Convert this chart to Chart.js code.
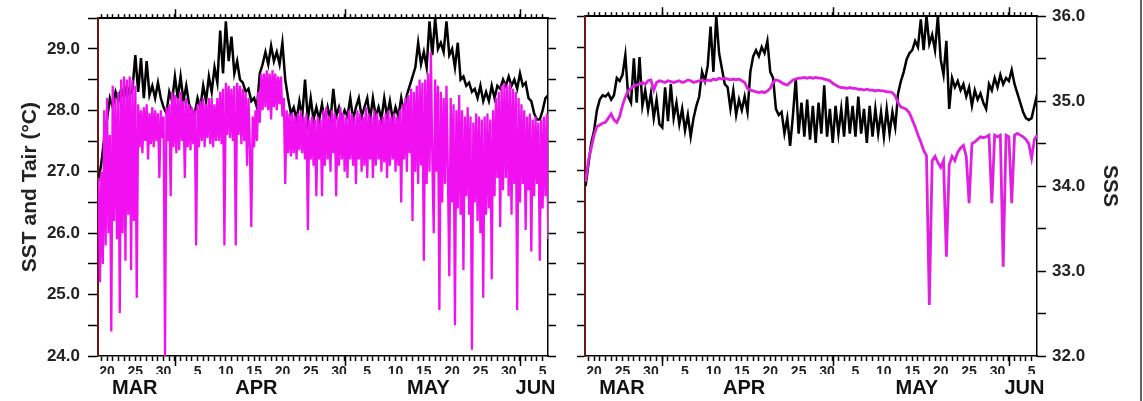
<!DOCTYPE html>
<html>
<head>
<meta charset="utf-8">
<script src="https://cdn.jsdelivr.net/npm/chart.js@4.4.1/dist/chart.umd.min.js"></script>
<style>
  body { margin: 0; background: #fff; width: 1143px; height: 401px; overflow: hidden; position: relative; }
  #left { position: absolute; left: 0; top: 0; }
  #right { position: absolute; left: 560px; top: 0; }
  #edge { position: absolute; left: 1140px; top: 0; width: 2px; height: 401px; background: #666; }
</style>
</head>
<body>
<canvas id="left" width="570" height="401"></canvas>
<canvas id="right" width="583" height="401"></canvas>
<div id="edge"></div>
<script>
// time axis is in days since 1 March (Mar 20 = 19, Apr 1 = 31, May 1 = 61, Jun 1 = 92)
const xMin = 17.4;
const xMax = 96.95;
const monthStarts = [0, 31, 61, 92];
const monthNames = ['MAR', 'APR', 'MAY', 'JUN'];
const monthLabelDays = [23.9, 45.4, 75.8, 94.75];
const sstTicks = [24, 24.5, 25, 25.5, 26, 26.5, 27, 27.5, 28, 28.5, 29, 29.5];
const sssTicks = [32, 32.5, 33, 33.5, 34, 34.5, 35, 35.5, 36];

// samples start at day 17.5; SST / SSS every half day, Tair every quarter day
const sampleStart = 17.5;

const sstLeft = [
  26.85, 27.15, 27.55, 27.85, 28.2, 28.05, 28.3, 28.15, 28.35, 28.2,
  28.4, 28.25, 28.35, 28.9, 28.3, 28.85, 28.2, 28.8, 28.25, 28.4,
  28.2, 28.45, 28.2, 28.05, 27.95, 28.3, 28.15, 28.55, 28.2, 28.55,
  28.15, 28.4, 28.1, 28.0, 27.95, 28.2, 28.05, 28.4, 28.15, 28.55,
  28.3, 28.7, 28.45, 29.3, 28.6, 29.45, 28.8, 29.2, 28.6, 28.8,
  28.5, 28.45, 28.3, 28.35, 28.15, 28.2, 28.05, 28.6, 28.75, 28.95,
  28.75, 29.05, 28.8, 28.95, 28.75, 29.1, 28.5, 28.2, 27.95, 28.05,
  27.85, 28.15, 27.9, 28.5, 27.85, 28.2, 27.85, 28.05, 27.85, 28.1,
  27.8, 28.05, 27.85, 28.35, 27.9, 28.05, 27.85, 28.0, 27.9, 28.2,
  27.85, 28.05, 28.2, 27.9, 28.05, 28.2, 27.85, 28.2, 27.9, 28.05,
  27.85, 28.2, 27.9, 28.15, 27.85, 28.05, 27.9, 28.2, 27.95, 28.25,
  28.4, 28.55, 28.7, 29.1, 28.75, 28.95, 28.7, 29.45, 28.9, 29.5,
  29.0, 29.1, 28.95, 29.45, 28.9, 29.0, 28.7, 29.1, 28.5, 28.55,
  28.4, 28.45, 28.3, 28.35, 28.2, 28.4, 28.15, 28.3, 28.15, 28.4,
  28.2, 28.4, 28.35, 28.5, 28.4, 28.55, 28.4, 28.5, 28.35, 28.6,
  28.4, 28.45, 28.2, 28.15, 27.95, 27.85, 27.85, 28.0, 28.2, 28.25
];

const tair = [
  26.9, 25.2, 27.0, 25.5,   28.0, 25.8, 28.2, 26.0,
  27.6, 24.4, 28.4, 26.2,   28.2, 25.9, 28.3, 24.7,
  28.5, 26.0, 28.55, 25.55, 28.5, 26.3, 28.55, 25.4,
  28.5, 26.2, 28.4, 24.95,  28.1, 27.4, 28.0, 27.3,
  28.05, 27.5, 28.1, 27.2,  27.95, 27.45, 28.05, 27.4,
  28.0, 27.5, 27.95, 26.9,  28.0, 27.55, 27.9, 24.0,
  28.05, 27.5, 28.1, 26.6,  28.3, 27.4, 28.25, 27.3,
  28.2, 27.35, 28.3, 27.5,  28.15, 26.9, 28.2, 27.4,
  28.1, 27.35, 28.05, 27.45, 28.0, 25.8, 28.1, 27.4,
  28.15, 27.5, 28.2, 27.4,  28.1, 27.55, 28.2, 27.45,
  28.2, 27.4, 28.1, 27.5,   28.2, 27.5, 28.3, 27.45,
  28.35, 25.8, 28.45, 27.6, 28.4, 27.55, 28.35, 27.5,
  28.4, 25.8, 28.45, 27.6,  28.4, 27.45, 28.35, 27.5,
  28.3, 27.1, 28.2, 27.4,   26.1, 27.9, 27.4, 28.0,
  27.5, 28.3, 27.8, 28.6,   28.0, 28.6, 28.05, 28.65,
  28.0, 28.6, 27.85, 28.65, 28.05, 28.6, 28.0, 28.55,
  28.1, 28.55, 27.9, 28.2,  26.8, 28.0, 27.3, 27.95,
  27.25, 27.95, 27.3, 27.9, 27.2, 27.95, 27.35, 28.0,
  27.3, 27.9, 27.2, 27.95,  26.05, 27.85, 27.2, 27.9,
  27.1, 27.85, 26.6, 27.9,  27.2, 27.85, 26.6, 28.0,
  27.1, 28.05, 27.2, 27.9,  27.0, 28.0, 27.3, 27.95,
  26.6, 27.9, 27.1, 28.05,  27.2, 27.95, 27.0, 27.9,
  26.9, 28.0, 27.2, 27.95,  27.1, 27.9, 26.8, 28.0,
  27.2, 27.95, 27.0, 27.9,  27.1, 28.05, 26.9, 27.95,
  27.2, 27.9, 26.9, 28.0,   27.1, 27.95, 27.2, 27.85,
  27.0, 27.9, 27.15, 27.95, 26.9, 28.0, 27.1, 27.9,
  27.2, 27.95, 27.0, 27.9,  27.1, 28.0, 26.5, 28.1,
  27.2, 28.2, 27.0, 28.25,  27.3, 28.35, 26.2, 28.3,
  27.0, 28.4, 26.8, 28.5,   27.1, 28.45, 25.55, 28.5,
  26.8, 28.6, 27.0, 28.95,  27.2, 26.0, 28.5, 27.0,
  28.4, 24.75, 28.3, 26.5,  28.2, 26.8, 28.4, 27.0,
  25.3, 28.2, 26.5, 28.1,   24.5, 28.0, 26.4, 28.25,
  26.3, 28.0, 25.4, 27.9,   26.6, 28.05, 26.3, 27.9,
  24.1, 27.8, 26.5, 27.95,  26.2, 27.9, 26.0, 27.85,
  24.95, 27.9, 26.3, 27.95, 26.4, 27.85, 25.25, 28.0,
  26.6, 28.2, 26.9, 28.3,   26.1, 28.4, 26.7, 28.45,
  26.9, 28.4, 26.6, 28.45,  26.3, 28.35, 26.8, 28.3,
  24.75, 28.2, 26.5, 28.1,  26.8, 28.0, 26.05, 27.9,
  26.7, 27.95, 25.7, 27.85, 26.6, 27.9, 26.8, 27.8,
  25.55, 27.85, 26.4, 27.9, 26.6, 27.95, 25.9, 27.8
];

const sss = [
  34.05, 34.3, 34.45, 34.6, 34.7, 34.72, 34.74, 34.75, 34.8, 34.85,
  34.78, 34.75, 34.82, 34.95, 35.05, 35.12, 35.15, 35.18, 35.19, 35.2,
  35.22, 35.2, 35.24, 35.25, 35.13, 35.22, 35.24, 35.23, 35.22, 35.24,
  35.23, 35.22, 35.23, 35.24, 35.22, 35.23, 35.25, 35.24, 35.22, 35.23,
  35.24, 35.25, 35.23, 35.25, 35.24, 35.26, 35.25, 35.27, 35.26, 35.27,
  35.26, 35.25, 35.26, 35.25, 35.26, 35.24, 35.22, 35.15, 35.13, 35.12,
  35.11, 35.1, 35.11, 35.1, 35.12, 35.15, 35.22, 35.25, 35.24, 35.22,
  35.2, 35.19, 35.22, 35.25, 35.26, 35.27, 35.27, 35.28, 35.27, 35.28,
  35.27, 35.28, 35.27, 35.27, 35.26, 35.25, 35.24, 35.21, 35.19, 35.17,
  35.16, 35.16, 35.15, 35.16, 35.15, 35.15, 35.14, 35.14, 35.13, 35.14,
  35.13, 35.13, 35.12, 35.13, 35.12, 35.12, 35.11, 35.11, 35.1, 35.06,
  34.98, 34.93, 34.92, 34.9, 34.86, 34.78, 34.7, 34.6, 34.52, 34.42,
  34.36, 32.6, 34.3, 34.35, 34.28, 34.22, 34.3, 33.17, 34.25, 34.35,
  34.3, 34.4, 34.45, 34.48, 34.35, 33.8, 34.5, 34.52, 34.55, 34.58,
  34.57, 34.58, 34.6, 33.8, 34.6, 34.58, 34.6, 33.05, 34.6, 34.58,
  33.8, 34.6, 34.62, 34.6, 34.58, 34.55, 34.5, 34.33, 34.55, 34.6
];

const sstRight = [
  26.75, 27.1, 27.45, 27.65, 27.98, 28.15, 28.22, 28.2, 28.25, 28.15,
  28.22, 28.5, 28.45, 28.55, 28.87, 28.2, 28.1, 28.82, 28.1, 28.84,
  28.05, 28.3, 27.98, 28.25, 27.85, 28.15, 27.75, 27.7, 28.35, 27.8,
  28.4, 27.85, 28.1, 27.75, 28.0, 27.65, 27.9, 27.55, 27.85, 28.05,
  28.2, 28.6, 28.45, 28.7, 29.33, 28.6, 29.5, 28.9, 28.65, 28.4,
  28.35, 28.0, 28.3, 27.9, 28.15, 27.98, 28.2, 27.95, 28.6, 28.85,
  28.95, 28.85, 29.0, 28.9, 29.1, 28.6, 28.5, 28.0, 27.9, 27.95,
  27.6, 27.85, 27.4, 27.9, 28.5, 27.6, 28.1, 27.55, 28.15, 27.5,
  28.05, 27.45, 28.1, 27.6, 28.38, 27.55, 28.0, 27.45, 28.05, 27.6,
  28.0, 27.55, 28.2, 27.6, 28.05, 27.55, 28.2, 27.6, 28.0, 27.45,
  28.05, 27.55, 28.0, 27.6, 27.95, 27.55, 28.0, 27.6, 27.95, 27.7,
  28.25, 28.45, 28.6, 28.8, 28.9, 28.95, 29.1, 29.0, 29.45, 28.95,
  29.5, 29.05, 29.2, 28.95, 29.5, 28.8, 28.55, 29.1, 28.0, 28.5,
  28.35, 28.45, 28.3, 28.4, 28.2, 28.35, 28.05, 28.3, 28.15, 28.25,
  28.1, 28.0, 28.4, 28.3, 28.5, 28.35, 28.55, 28.4, 28.5, 28.45,
  28.63, 28.4, 28.25, 28.1, 27.95, 27.85, 27.82, 27.85, 28.05, 28.25
];

const FONT = "'Liberation Sans', Arial, sans-serif";
const axisRed = '#6e1414';

const dayTicks = [];
for (let d = 18; d <= 96; d++) dayTicks.push(d);

function dayOfMonth(t) {
  let m = 0;
  for (let i = 0; i < monthStarts.length; i++) if (t >= monthStarts[i]) m = i;
  return t - monthStarts[m] + 1;
}

function toPoints(vals, step) {
  return vals.map((v, i) => ({ x: sampleStart + i * step, y: v }));
}

function isWhole(v) { return Math.abs(v - Math.round(v)) < 1e-6; }

function xScales() {
  return {
    x: {
      type: 'linear', position: 'bottom', min: xMin, max: xMax, weight: 0,
      afterBuildTicks: s => { s.ticks = dayTicks.map(v => ({ value: v })); },
      afterFit: s => { s.height = 18; },
      ticks: {
        autoSkip: false, maxRotation: 0, padding: 3, color: '#222',
        font: { family: FONT, size: 14, weight: 'bold' },
        callback: v => { const d = dayOfMonth(v); return d % 5 === 0 ? String(d) : ''; }
      },
      grid: { drawOnChartArea: false, tickLength: 5, tickColor: '#000', tickWidth: 1.5 },
      border: { color: '#000', width: 1.5 }
    },
    xm: {
      type: 'linear', position: 'bottom', min: xMin, max: xMax, weight: 1,
      afterBuildTicks: s => { s.ticks = monthLabelDays.map(v => ({ value: v })); },
      afterFit: s => { s.height = 27; },
      ticks: {
        autoSkip: false, maxRotation: 0, padding: 2, color: '#111',
        font: { family: FONT, size: 20, weight: 'bold' },
        callback: (v, i) => monthNames[i]
      },
      grid: { display: false, drawTicks: false },
      border: { display: false }
    },
    xt: {
      type: 'linear', position: 'top', min: xMin, max: xMax,
      afterBuildTicks: s => { s.ticks = dayTicks.map(v => ({ value: v })); },
      afterFit: s => { s.height = 16; },
      ticks: { display: false },
      grid: { drawOnChartArea: false, tickLength: 4, tickColor: '#000', tickWidth: 1.5 },
      border: { color: '#000', width: 2 }
    }
  };
}

// longer tick marks at the start of each month, top and bottom
const monthTickPlugin = {
  id: 'monthTicks',
  afterDraw(chart) {
    const { ctx, chartArea } = chart;
    const sx = chart.scales.x;
    ctx.save();
    ctx.strokeStyle = '#000';
    ctx.lineWidth = 1.5;
    monthStarts.forEach(d => {
      if (d < xMin || d > xMax) return;
      const px = Math.round(sx.getPixelForValue(d)) + 0.5;
      ctx.beginPath();
      ctx.moveTo(px, chartArea.bottom);
      ctx.lineTo(px, chartArea.bottom + 10);
      ctx.moveTo(px, chartArea.top);
      ctx.lineTo(px, chartArea.top - 9);
      ctx.stroke();
    });
    ctx.restore();
  }
};

const common = {
  responsive: false,
  animation: false,
  events: [],
  layout: { padding: 0 },
  plugins: { legend: { display: false }, tooltip: { enabled: false } },
  elements: { point: { radius: 0 }, line: { tension: 0, borderWidth: 2.5 } }
};

new Chart(document.getElementById('left'), {
  type: 'line',
  data: {
    datasets: [
      { label: 'Tair', data: toPoints(tair, 0.25), borderColor: '#f010f0', borderWidth: 2.3, xAxisID: 'x', yAxisID: 'y' },
      { label: 'SST', data: toPoints(sstLeft, 0.5), borderColor: '#000', xAxisID: 'x', yAxisID: 'y' }
    ]
  },
  options: {
    ...common,
    scales: {
      ...xScales(),
      y: {
        position: 'left', min: 24, max: 29.5,
        afterBuildTicks: s => { s.ticks = sstTicks.map(v => ({ value: v })); },
        afterFit: s => { s.width = 98; },
        ticks: {
          padding: 8, color: '#222', font: { family: FONT, size: 17, weight: 'bold' },
          callback: v => isWhole(v) ? v.toFixed(1) : ''
        },
        grid: { drawOnChartArea: false, tickLength: 10, tickColor: '#000', tickWidth: 1.5 },
        border: { color: axisRed, width: 2 },
        title: {
          display: true, text: 'SST and Tair (°C)', color: '#222',
          font: { family: FONT, size: 21, weight: 'bold' }, padding: { top: 18, bottom: 0 }
        }
      },
      yr: {
        position: 'right', min: 24, max: 29.5,
        afterBuildTicks: s => { s.ticks = sstTicks.map(v => ({ value: v })); },
        afterFit: s => { s.width = 22; },
        ticks: { display: false },
        grid: { drawOnChartArea: false, tickLength: 8, tickColor: '#000', tickWidth: 1.5 },
        border: { color: '#000', width: 1.5 }
      }
    }
  },
  plugins: [monthTickPlugin]
});

new Chart(document.getElementById('right'), {
  type: 'line',
  data: {
    datasets: [
      { label: 'SSS', data: toPoints(sss, 0.5), borderColor: '#e020e0', borderWidth: 2.8, xAxisID: 'x', yAxisID: 'sss' },
      { label: 'SST', data: toPoints(sstRight, 0.5), borderColor: '#000', xAxisID: 'x', yAxisID: 'y' }
    ]
  },
  options: {
    ...common,
    scales: {
      ...xScales(),
      y: {
        position: 'left', min: 24, max: 29.5,
        afterBuildTicks: s => { s.ticks = sstTicks.map(v => ({ value: v })); },
        afterFit: s => { s.width = 25; },
        ticks: { display: false },
        grid: { drawOnChartArea: false, tickLength: 8, tickColor: '#000', tickWidth: 1.5 },
        border: { color: axisRed, width: 2 }
      },
      sss: {
        position: 'right', min: 32, max: 36,
        afterBuildTicks: s => { s.ticks = sssTicks.map(v => ({ value: v })); },
        afterFit: s => { s.width = 106; },
        ticks: {
          padding: 6, color: '#222', font: { family: FONT, size: 17, weight: 'bold' },
          callback: v => isWhole(v) ? v.toFixed(1) : ''
        },
        grid: { drawOnChartArea: false, tickLength: 9, tickColor: '#000', tickWidth: 1.5 },
        border: { color: '#000', width: 1.5 },
        title: {
          display: true, text: 'SSS', color: '#222',
          font: { family: FONT, size: 21, weight: 'bold' }, padding: { top: 21, bottom: 0 }
        }
      }
    }
  },
  plugins: [monthTickPlugin]
});
</script>
</body>
</html>
